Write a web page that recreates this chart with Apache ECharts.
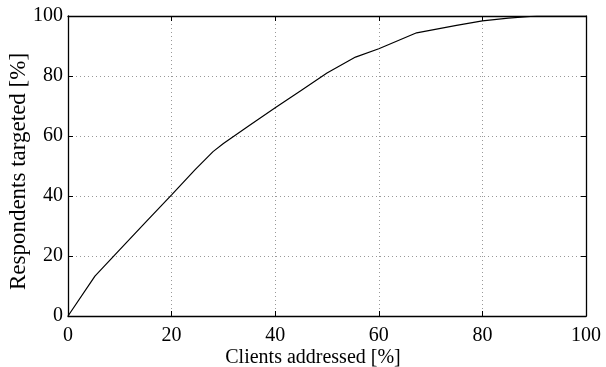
<!DOCTYPE html>
<html>
<head>
<meta charset="utf-8">
<script src="https://cdn.jsdelivr.net/npm/echarts@6/dist/echarts.min.js"></script>
<style>html,body{margin:0;padding:0;background:#fff}#c{width:606px;height:367px}</style>
</head>
<body>
<div id="c"></div>
<script>
const clientsAddressed = [0, 5.2, 10, 15, 20, 24.5, 28, 30, 35, 40, 45, 50, 55.5, 60, 67.3, 75, 80, 85, 90.5, 100];
const respondentsTargeted = [0, 13.3, 22.1, 31.3, 40.4, 48.7, 54.8, 57.5, 63.5, 69.4, 75.2, 81, 86.3, 89.1, 94.4, 96.9, 98.4, 99.3, 100, 100];
const xTicks = [0, 20, 40, 60, 80, 100];
const yTicks = [0, 20, 40, 60, 80, 100];

const font = 'Liberation Serif';
const chart = echarts.init(document.getElementById('c'));
const gridLine = {show: true, lineStyle: {color: '#999', type: [1, 3], width: 1}};
const tickIn = {show: true, inside: true, length: 5, lineStyle: {color: '#000', width: 1}};
const line = {show: true, onZero: false, lineStyle: {color: '#000', width: 1.3}};
chart.setOption({
  animation: false,
  grid: {left: 68, right: 20, top: 16, bottom: 51, containLabel: false, outerBoundsMode: 'none'},
  xAxis: [{
    type: 'value', min: xTicks[0], max: xTicks[xTicks.length - 1], interval: 20,
    name: 'Clients addressed [%]', nameLocation: 'middle', nameGap: 32, nameMoveOverlap: false,
    nameTextStyle: {fontFamily: font, fontSize: 20, color: '#000', padding: [0, 28, 0, 0]},
    axisLine: line, axisTick: tickIn, splitLine: gridLine,
    axisLabel: {fontFamily: font, fontSize: 20, color: '#000', margin: 10}
  }, {
    type: 'value', position: 'top', min: 0, max: 100, interval: 20,
    axisLine: line, axisTick: tickIn, axisLabel: {show: false}, splitLine: {show: false}
  }],
  yAxis: [{
    type: 'value', min: yTicks[0], max: yTicks[yTicks.length - 1], interval: 20,
    name: 'Respondents targeted [%]', nameLocation: 'middle', nameGap: 38, nameMoveOverlap: false,
    nameTextStyle: {fontFamily: font, fontSize: 23, color: '#000', padding: [0, 11, 0, 0]},
    axisLine: line, axisTick: tickIn, splitLine: gridLine,
    axisLabel: {fontFamily: font, fontSize: 20, color: '#000', margin: 5}
  }, {
    type: 'value', position: 'right', min: 0, max: 100, interval: 20,
    axisLine: line, axisTick: tickIn, axisLabel: {show: false}, splitLine: {show: false}
  }],
  series: [{
    type: 'line',
    data: clientsAddressed.map((x, i) => [x, respondentsTargeted[i]]),
    showSymbol: false, symbol: 'none',
    lineStyle: {color: '#000', width: 1.2}
  }]
});
</script>
</body>
</html>
